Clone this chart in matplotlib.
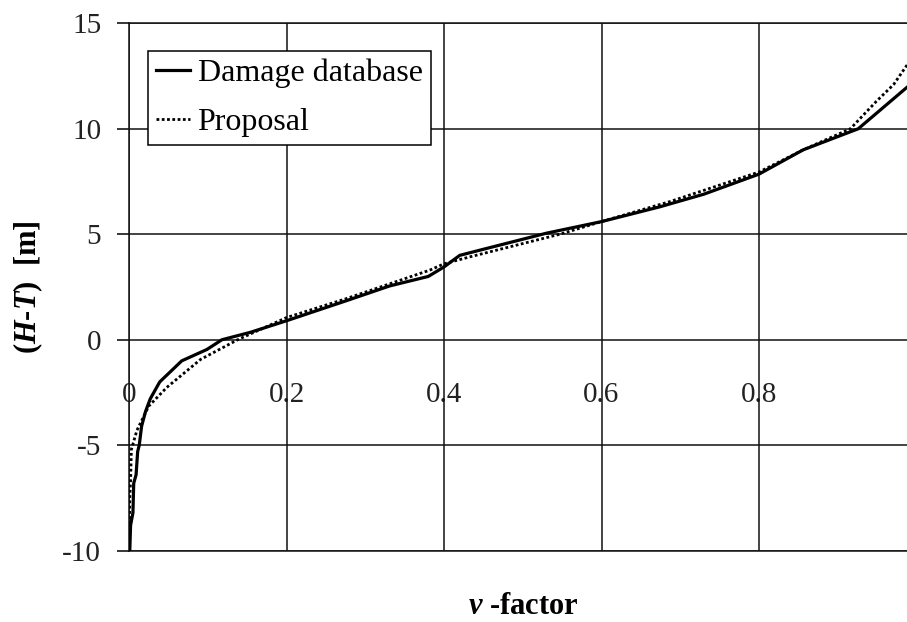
import matplotlib
matplotlib.use("Agg")
import matplotlib.pyplot as plt

plt.rcParams['font.family'] = ['Liberation Serif', 'DejaVu Serif']
plt.rcParams['mathtext.fontset'] = 'custom'
plt.rcParams['mathtext.it'] = 'Liberation Serif:italic:bold'
plt.rcParams['mathtext.rm'] = 'Liberation Serif:bold'
plt.rcParams['mathtext.bf'] = 'Liberation Serif:bold'

# Data
damage_x = [0.001, 0.002, 0.005, 0.006, 0.009, 0.011, 0.013, 0.016, 0.021, 0.027,
            0.039, 0.067, 0.099, 0.118, 0.154, 0.200, 0.276, 0.331, 0.380, 0.400,
            0.420, 0.446, 0.530, 0.600, 0.674, 0.730, 0.800, 0.856, 0.926, 1.000]
damage_y = [-10.0, -8.8, -8.2, -6.8, -6.4, -5.3, -5.0, -4.1, -3.4, -2.8,
            -2.0, -1.0, -0.46, 0.0, 0.35, 0.90, 1.85, 2.55, 3.0, 3.45,
            4.0, 4.25, 5.05, 5.6, 6.3, 6.9, 7.85, 9.0, 10.0, 12.35]

proposal_x = [0.0005, 0.001, 0.002, 0.003, 0.010, 0.025, 0.048, 0.091, 0.138, 0.200,
              0.276, 0.331, 0.382, 0.400, 0.433, 0.547, 0.600, 0.687, 0.800, 0.856,
              0.916, 0.949, 0.971, 0.987, 1.000]
proposal_y = [-10.0, -7.5, -6.7, -5.2, -4.3, -3.15, -2.26, -0.93, 0.0, 1.05,
              1.95, 2.65, 3.3, 3.6, 3.93, 5.0, 5.6, 6.55, 7.95, 9.0,
              10.0, 11.3, 12.1, 12.97, 13.6]

xticks = [0.0, 0.2, 0.4, 0.6, 0.8, 1.0]
xtick_labels = ["0", "0.2", "0.4", "0.6", "0.8", ""]
yticks = [-10, -5, 0, 5, 10, 15]
ytick_labels = ["-10", "-5", "0", "5", "10", "15"]

W, H = 907, 622
fig = plt.figure(figsize=(W / 100, H / 100), dpi=100)
ax = fig.add_axes([129 / W, (H - 550.7) / H, 787.5 / W, 527.4 / H])

ax.plot(damage_x, damage_y, color='black', lw=2.3, solid_joinstyle='miter', label='Damage database', zorder=3)
ax.plot(proposal_x, proposal_y, color='black', lw=2.0, ls=(0, (1, 0.9)), label='Proposal', zorder=3)

ax.set_xlim(0, 1)
ax.set_ylim(-10, 15)
ax.set_xticks(xticks)
ax.set_xticklabels([])
ax.set_yticks(yticks)
ax.set_yticklabels(ytick_labels, fontsize=21, color='#222222')
ax.tick_params(axis='x', length=0)
ax.tick_params(axis='y', direction='out', length=9, width=1.1, pad=11, color='black')
ax.grid(True, color='#111111', lw=1.1)
ax.set_axisbelow(True)

for s in ['right']:
    ax.spines[s].set_visible(False)
for s in ['left', 'top', 'bottom']:
    ax.spines[s].set_linewidth(1.1)
    ax.spines[s].set_color('#111111')

for xv, lab in zip(xticks, xtick_labels):
    ax.text(xv, -2.6, lab, ha='center', va='center', fontsize=21, color='#222222', zorder=0.5)

fig.text(28 / W, 1 - 287 / H, r'$\mathit{(H}$-$\mathit{T)}$  [m]', rotation=90,
         ha='center', va='center', fontsize=22, fontweight='bold')
fig.text(523 / W, 1 - 607 / H, r'$\mathit{\nu}$ -factor', ha='center', va='center',
         fontsize=22, fontweight='bold')

leg = ax.legend(loc='upper left', bbox_to_anchor=(148 / W, 1 - 51 / H),
                bbox_transform=fig.transFigure, borderaxespad=0, fontsize=23,
                handlelength=1.05, handletextpad=0.25, labelspacing=0.6,
                borderpad=0.25, fancybox=False, framealpha=1, edgecolor='black')
leg.get_frame().set_linewidth(1.1)

fig.savefig('out.png', dpi=100)
